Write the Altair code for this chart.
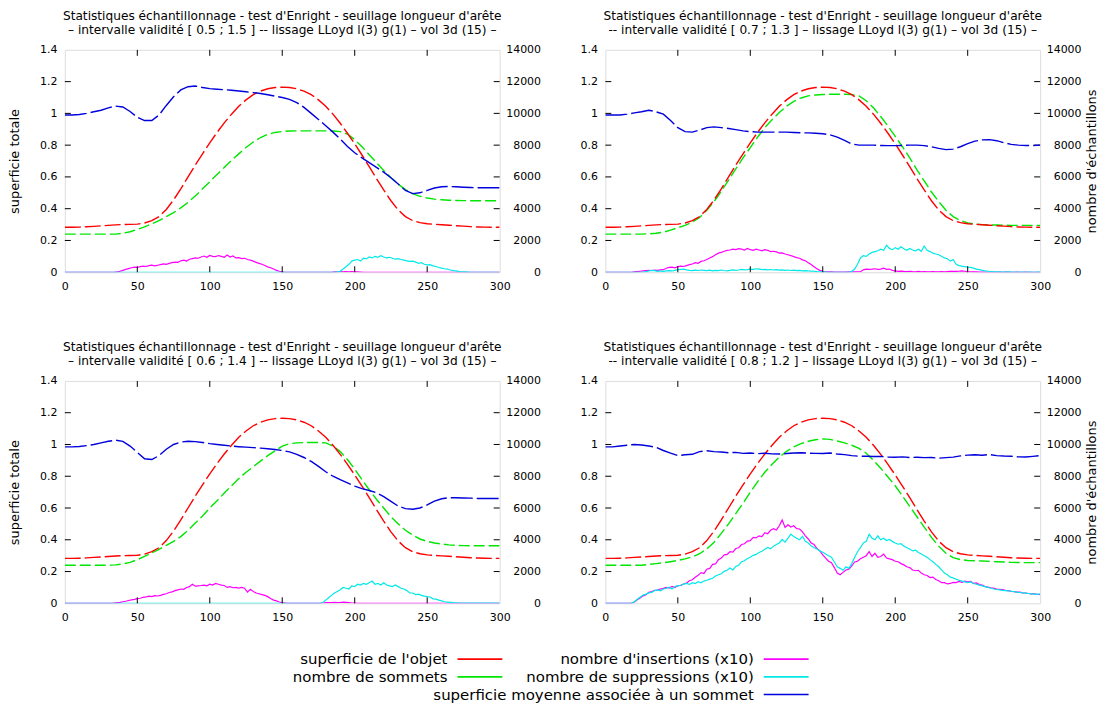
import altair as alt
import pandas as pd

FONT = "DejaVu Sans"
W, H = 436, 223

# ---------------- data ----------------
XS = list(range(0, 301, 5))   # smooth series sampling
XN = list(range(0, 301, 2))   # noisy series sampling

X_TICKS = [0, 50, 100, 150, 200, 250, 300]
YL_TICKS = [0, 0.2, 0.4, 0.6, 0.8, 1, 1.2, 1.4]
YR_TICKS = [0, 2000, 4000, 6000, 8000, 10000, 12000, 14000]

TITLE1 = "Statistiques échantillonnage - test d'Enright - seuillage longueur d'arête"
TITLE2 = [
    "– intervalle validité [ 0.5 ; 1.5 ]  -- lissage LLoyd l(3) g(1) – vol 3d (15) –",
    "-- intervalle validité [ 0.7 ; 1.3 ]  – lissage LLoyd l(3) g(1) – vol 3d (15) –",
    "– intervalle validité [ 0.6 ; 1.4 ]  -- lissage LLoyd l(3) g(1) – vol 3d (15) –",
    "-- intervalle validité [ 0.8 ; 1.2 ]  – lissage LLoyd l(3) g(1) – vol 3d (15) –",
]

# superficie de l'objet (left axis) - same in every panel
RED = [0.283, 0.283, 0.284, 0.286, 0.289, 0.292, 0.295, 0.298, 0.300, 0.301, 0.303,
       0.310, 0.325, 0.350, 0.395, 0.455, 0.525, 0.600, 0.675, 0.745, 0.815,
       0.880, 0.940, 0.995, 1.045, 1.085, 1.118, 1.140, 1.155, 1.163, 1.165,
       1.163, 1.155, 1.140, 1.118, 1.085, 1.045, 0.995, 0.938, 0.875, 0.808,
       0.738, 0.665, 0.590, 0.518, 0.450, 0.392, 0.350, 0.325, 0.312, 0.305,
       0.302, 0.299, 0.296, 0.293, 0.290, 0.287, 0.285, 0.284, 0.283, 0.283]

# nombre de sommets (right axis)
GREEN_TL = [2400] * 7 + [2400, 2450, 2550, 2700, 2850, 3050, 3250, 3500, 3750, 4050, 4400, 4800, 5250, 5700,
                         6150, 6600, 7050, 7450, 7850, 8200, 8480, 8680, 8800, 8860, 8890, 8900, 8900, 8900,
                         8900, 8900, 8890, 8850, 8700, 8350, 7900, 7400, 6900, 6400, 5950, 5550, 5200, 4950,
                         4780, 4670, 4600, 4560, 4530, 4520, 4510, 4500, 4500, 4500, 4500, 4500]
GREEN_TR = [2400] * 6 + [2420, 2450, 2520, 2650, 2800, 2950, 3150, 3450, 3900, 4450, 5100, 5800, 6500, 7200,
                         7850, 8500, 9100, 9600, 10050, 10450, 10750, 10970, 11100, 11160, 11190, 11200, 11200,
                         11200, 11180, 11100, 10800, 10350, 9800, 9200, 8550, 7900, 7200, 6450, 5750, 5050, 4450,
                         3900, 3500, 3250, 3100, 3030, 3000, 2980, 2970, 2960, 2950, 2950, 2950, 2950, 2950]
GREEN_BL = [2400] * 7 + [2420, 2480, 2580, 2750, 2950, 3180, 3400, 3650, 3900, 4200, 4600, 5050, 5500, 6000,
                         6450, 6950, 7400, 7850, 8250, 8600, 8950, 9300, 9600, 9900, 10050, 10100, 10120, 10120,
                         10120, 10100, 9900, 9550, 9050, 8450, 7800, 7150, 6550, 6000, 5450, 5000, 4600, 4300,
                         4050, 3900, 3800, 3730, 3680, 3650, 3630, 3620, 3620, 3620, 3620, 3620]
GREEN_BR = [2400] * 6 + [2450, 2500, 2550, 2620, 2700, 2800, 2920, 3120, 3420, 3850, 4400, 5000, 5650, 6300,
                         7000, 7650, 8250, 8750, 9200, 9570, 9850, 10050, 10200, 10300, 10350, 10320, 10220,
                         10100, 9950, 9750, 9450, 9000, 8500, 7950, 7400, 6750, 6100, 5450, 4800, 4150, 3600,
                         3150, 2880, 2750, 2700, 2680, 2660, 2640, 2620, 2600, 2580, 2570, 2560, 2560, 2560]

# superficie moyenne associée à un sommet (left axis)
BLUE_TL = [0.99, 0.99, 0.993, 1.0, 1.01, 1.02, 1.035, 1.046, 1.04, 1.012, 0.975,
           0.955, 0.955, 0.99, 1.05, 1.105, 1.148, 1.168, 1.172, 1.163, 1.156,
           1.152, 1.149, 1.146, 1.141, 1.136, 1.131, 1.125, 1.117, 1.109, 1.1,
           1.088, 1.068, 1.038, 1.0, 0.962, 0.922, 0.882, 0.838, 0.792, 0.752,
           0.72, 0.69, 0.66, 0.63, 0.595, 0.555, 0.515, 0.495, 0.5, 0.515,
           0.53, 0.538, 0.54, 0.538, 0.535, 0.533, 0.532, 0.532, 0.532, 0.532]
BLUE_TR = [0.99, 0.99, 0.99, 0.995, 1.003, 1.01, 1.02, 1.01, 0.995, 0.955, 0.91,
           0.885, 0.882, 0.895, 0.91, 0.915, 0.91, 0.905, 0.898, 0.89, 0.885,
           0.882, 0.882, 0.882, 0.882, 0.882, 0.88, 0.878, 0.877, 0.875, 0.872,
           0.865, 0.85, 0.83, 0.808, 0.8, 0.8, 0.8, 0.798, 0.797, 0.797,
           0.798, 0.8, 0.8, 0.797, 0.79, 0.78, 0.772, 0.775, 0.79, 0.81,
           0.825, 0.833, 0.835, 0.828, 0.815, 0.805, 0.8, 0.798, 0.798, 0.8]
BLUE_BL = [0.985, 0.985, 0.987, 0.993, 1.0, 1.01, 1.02, 1.027, 1.02, 0.99, 0.95,
           0.91, 0.905, 0.93, 0.97, 1.0, 1.015, 1.02, 1.018, 1.012, 1.005,
           1.0, 0.995, 0.99, 0.986, 0.983, 0.98, 0.977, 0.973, 0.968, 0.962,
           0.953, 0.938, 0.918, 0.893, 0.862, 0.828, 0.8, 0.778, 0.758, 0.738,
           0.722, 0.71, 0.696, 0.672, 0.642, 0.612, 0.596, 0.592, 0.6, 0.62,
           0.643, 0.658, 0.665, 0.665, 0.663, 0.662, 0.66, 0.66, 0.66, 0.66]
BLUE_BR = [0.985, 0.985, 0.99, 0.995, 1.0, 0.997, 0.99, 0.982, 0.962, 0.945, 0.93,
           0.935, 0.938, 0.955, 0.96, 0.955, 0.953, 0.948, 0.95, 0.944, 0.946,
           0.942, 0.945, 0.941, 0.94, 0.943, 0.946, 0.948, 0.945, 0.944, 0.943,
           0.946, 0.94, 0.936, 0.93, 0.926, 0.926, 0.924, 0.925, 0.921, 0.92,
           0.922, 0.918, 0.92, 0.917, 0.918, 0.914, 0.917, 0.92, 0.928, 0.933,
           0.935, 0.932, 0.937, 0.93, 0.927, 0.926, 0.922, 0.921, 0.925, 0.93]

# nombre d'insertions (x10) (right axis)
MAG_TL = ([0] * 18 +
          [20, 60, 120, 180, 230, 280, 320, 300, 350, 380, 360, 420, 450, 400, 440, 480, 520, 500, 560, 600,
           640, 620, 720, 760, 700, 820, 860, 900, 880, 960, 1020, 940, 1060, 1000, 980, 1050, 1000, 940,
           1080, 960, 1020, 900, 920, 860, 880, 800, 760, 700, 620, 560, 500, 420, 340, 280, 200, 120, 60, 20] +
          [0] * 17 + [20, 30, 40, 30, 40, 30, 40, 30, 20, 10] + [0] * 48)
MAG_TR = ([0] * 10 +
          [20, 40, 60, 80, 100, 120, 110, 130, 120, 150, 160, 250, 300, 320, 280, 350, 380, 360, 420, 480,
           520, 600, 560, 680, 720, 800, 900, 980, 1100, 1200, 1250, 1320, 1380, 1400, 1450, 1420, 1480, 1450, 1400, 1500,
           1420, 1380, 1450, 1400, 1350, 1420, 1380, 1300, 1320, 1280, 1200, 1220, 1150, 1100, 1050, 980, 920, 880, 780, 720,
           600, 480, 350, 220, 120, 60, 30, 20, 20, 10, 10, 10, 10, 10, 20, 20, 20, 30, 30, 150,
           200, 180, 190, 220, 180, 200, 260, 180, 200, 120, 80, 60, 70, 50, 40, 60, 40, 30, 50, 30,
           40, 30, 30, 40, 30, 30, 40, 30, 40, 50, 60, 50, 60, 80, 60, 40, 30, 20, 20, 10] +
          [10, 10, 0, 10, 10, 0, 10, 0, 10, 10, 0, 0, 10, 0, 0, 10, 0, 0, 0, 0, 0])
MAG_BL = ([0] * 17 +
          [20, 40, 60, 100, 130, 180, 220, 250, 300, 320, 380, 400, 450, 420, 480, 460, 500, 560, 600, 680,
           720, 800, 850, 900, 880, 1000, 1050, 1200, 1080, 1100, 1120, 1150, 1100, 1200, 1150, 1250, 1200, 1150,
           1120, 1000, 1050, 980, 1000, 960, 1000, 950, 700, 880, 750, 650, 600, 550, 500, 420, 300, 200, 150, 80, 40, 20] +
          [0] * 12 + [20, 40, 50, 40, 60, 40, 50, 80, 60, 40, 20, 10] + [0] * 50)
MAG_BR = ([0] * 10 +
          [80, 220, 330, 470, 540, 700, 740, 820, 830, 900,
           940, 1010, 960, 1060, 990, 1120, 1130, 1220, 1280, 1420,
           1480, 1640, 1760, 1930, 1880, 2150, 2200, 2450, 2480, 2750,
           2850, 3050, 3080, 3250, 3220, 3450, 3500, 3700, 3750, 3920,
           3950, 4150, 4120, 4250, 4200, 4450, 4380, 4600, 4700, 4620,
           4880, 5250, 4780, 4950, 4800, 4880, 4700, 4680, 4500, 4250,
           4050, 3800, 3700, 3450, 3300, 3050, 2850, 2650, 2550, 2250,
           1900, 1800, 1950, 2100, 2150, 2350, 2600, 2650, 2800, 2900,
           3000, 3250, 2950, 3150, 2900, 2950, 3100, 2850, 2800, 2750,
           2650, 2620, 2500, 2420, 2300, 2250, 2100, 2050, 2080, 1900,
           1800, 1750, 1620, 1650, 1500, 1420, 1300, 1300, 1220, 1250,
           1320, 1300, 1380, 1320, 1400, 1350, 1380, 1250, 1280, 1180,
           1150, 1050, 1020, 980, 960, 900, 880, 860, 820, 800,
           760, 740, 700, 700, 660, 650, 620, 600, 590, 570,
           540])

# nombre de suppressions (x10) (right axis)
CYAN_TL = ([0] * 94 +
           [20, 60, 200, 350, 500, 700, 760, 800, 700, 880, 840, 960, 900, 1000, 940, 1040, 960, 900, 940, 880,
            820, 860, 800, 760, 720, 680, 700, 640, 560, 600, 500, 460, 480, 400, 360, 300, 260, 220, 200, 140,
            100, 80, 40, 30, 20, 10] + [0] * 11)
CYAN_TR = ([0] * 14 +
           [40, 80, 120, 100, 60, 80, 60, 80, 100, 80, 120, 160, 180, 200, 150, 120, 100, 130, 110, 140,
            120, 100, 130, 90, 120, 100, 140, 110, 90, 120, 150, 120, 140, 180, 150, 160, 200, 180, 220, 190,
            160, 180, 150, 170, 140, 160, 130, 150, 120, 140, 110, 130, 100, 120, 90, 100, 80, 70, 60, 40,
            30, 20, 10] + [0] * 8 +
           [50, 200, 500, 900, 1050, 1000, 1150, 1250, 1300, 1350, 1450, 1380, 1700, 1500, 1420, 1550, 1450,
            1600, 1480, 1380, 1500, 1400, 1350, 1450, 1320, 1650, 1380, 1300, 1200, 1150, 1100, 1000, 900, 850,
            700, 800, 500, 420, 380, 350, 320, 300, 260, 200, 160, 120, 80, 60, 40, 30, 20, 20, 10, 10, 20] +
           [10, 10, 0, 10, 10, 0, 10, 10, 0, 10, 10])
CYAN_BL = ([0] * 89 +
           [50, 200, 350, 500, 650, 750, 850, 1000, 950, 900, 1100, 1050, 1200, 1150, 1250, 1200, 1300, 1400,
            1200, 1250, 1150, 1300, 1150, 1100, 1050, 1150, 1050, 950, 900, 800, 650, 650, 550, 580, 500, 450,
            420, 400, 280, 260, 200, 150, 100, 80, 60, 40, 30, 20, 20, 10, 10] + [10] * 11)
CYAN_BR = ([0] * 10 +
           [100, 260, 380, 520, 580, 660, 690, 800, 850, 790,
            900, 940, 1010, 900, 1060, 1100, 1140, 1210, 1250, 1190,
            1300, 1240, 1360, 1290, 1400, 1450, 1520, 1580, 1720, 1800,
            1860, 2010, 2080, 2220, 2100, 2320, 2400, 2620, 2680, 2820,
            2900, 3020, 3080, 3200, 3280, 3400, 3520, 3430, 3600, 3700,
            3800, 4020, 3850, 4100, 4350, 4200, 4100, 4000, 4220, 3900,
            3800, 3620, 3500, 3420, 3300, 3220, 3100, 3000, 2900, 2600,
            2300, 2200, 2080, 2300, 2200, 2500, 2900, 3250, 3500, 3800,
            3900, 4350, 4100, 4000, 4250, 4000, 4100, 3950, 4020, 3900,
            3800, 3720, 3750, 3600, 3500, 3420, 3300, 3350, 3200, 3100,
            3000, 2900, 2750, 2620, 2450, 2300, 2100, 1900, 1800, 1650,
            1600, 1520, 1450, 1400, 1350, 1300, 1350, 1250, 1200, 1150,
            1100, 1050, 1000, 950, 900, 870, 850, 820, 800, 780,
            760, 740, 700, 680, 660, 640, 620, 600, 580, 560,
            600])

LEG_LABELS = ["superficie de l'objet", "nombre de sommets", "nombre d'insertions (x10)",
              "nombre de suppressions (x10)", "superficie moyenne associée à un sommet"]
LEG_COL = [0, 0, 1, 1, 1]
LEG_ROW = [0, 1, 0, 1, 2]

C_RED, C_GREEN, C_MAG, C_CYAN, C_BLUE = "#ff0000", "#00e600", "#ff00ff", "#00e8e8", "#0000dd"
COLORS = [C_RED, C_GREEN, C_MAG, C_CYAN, C_BLUE]

# ---------------- helpers ----------------
def x_enc():
    return alt.X("x:Q", scale=alt.Scale(domain=[0, 300], nice=False, zero=False),
                 axis=alt.Axis(values=X_TICKS, labelFlush=False, labelOverlap=False, domain=False,
                               ticks=False, tickSize=0, grid=False, labelPadding=8, labelFont=FONT,
                               labelFontSize=11, labelColor="black", title=None))


def yl_enc(title):
    return alt.Y("v:Q", scale=alt.Scale(domain=[0, 1.4], nice=False, zero=False),
                 axis=alt.Axis(orient="left", values=YL_TICKS, format="~g", labelFlush=False,
                               labelOverlap=False, domain=False, ticks=False, tickSize=0, grid=False,
                               labelPadding=8, labelFont=FONT, labelFontSize=11, labelColor="black",
                               title=title, titleFont=FONT, titleFontSize=13, titleFontWeight="normal",
                               titleColor="black", titlePadding=18))


def yr_enc(title):
    return alt.Y("v:Q", scale=alt.Scale(domain=[0, 14000], nice=False, zero=False),
                 axis=alt.Axis(orient="right", values=YR_TICKS, format="d", labelFlush=False,
                               labelOverlap=False, domain=False, ticks=False, tickSize=0, grid=False,
                               labelAlign="right", labelPadding=41, labelFont=FONT, labelFontSize=11,
                               labelColor="black", title=title, titleFont=FONT, titleFontSize=13,
                               titleFontWeight="normal", titleColor="black", titleAngle=270,
                               titleBaseline="top", titlePadding=4))


def line(xs, ys, color, yenc, dash=None, width=1.4):
    df = pd.DataFrame({"x": xs, "v": ys})
    kw = dict(color=color, strokeWidth=width, clip=True)
    if dash:
        kw["strokeDash"] = dash
    return alt.Chart(df).mark_line(**kw).encode(x=x_enc(), y=yenc)


def panel(green, blue, mag, cyan, title2, left_title, right_title):
    yl = yl_enc(left_title)
    yr = yr_enc(right_title)
    xt = pd.DataFrame({"x": X_TICKS[1:-1]})
    rule = dict(color="black", strokeWidth=1)
    ticks_top = alt.Chart(xt).mark_rule(**rule).encode(x=x_enc(), y=alt.value(0), y2=alt.value(6))
    ticks_bot = alt.Chart(xt).mark_rule(**rule).encode(x=x_enc(), y=alt.value(H - 6), y2=alt.value(H))
    ticks_l = alt.Chart(pd.DataFrame({"v": YL_TICKS[1:-1]})).mark_rule(**rule).encode(
        y=yl, x=alt.value(0), x2=alt.value(6))
    ticks_r = alt.Chart(pd.DataFrame({"v": YR_TICKS[1:-1]})).mark_rule(**rule).encode(
        y=yr, x=alt.value(W - 6), x2=alt.value(W))

    right = alt.layer(
        line(XS, green, C_GREEN, yr, dash=[11, 4]),
        line(XN, mag, C_MAG, yr, width=1.2),
        line(XN, cyan, C_CYAN, yr, width=1.2),
        ticks_r,
    )
    left = alt.layer(
        line(XS, RED, C_RED, yl, dash=[16, 4]),
        line(XS, blue, C_BLUE, yl, dash=[22, 4]),
        ticks_l, ticks_top, ticks_bot,
    )
    return alt.layer(right, left).resolve_scale(y="independent").properties(
        width=W, height=H,
        title=alt.TitleParams(text=[TITLE1, title2], anchor="middle", frame="group", font=FONT,
                              fontSize=12.2, fontWeight="normal", color="black", lineHeight=13.5,
                              offset=8))


tl = panel(GREEN_TL, BLUE_TL, MAG_TL, CYAN_TL, TITLE2[0], "superficie totale", None)
tr = panel(GREEN_TR, BLUE_TR, MAG_TR, CYAN_TR, TITLE2[1], None, "nombre d'échantillons")
bl = panel(GREEN_BL, BLUE_BL, MAG_BL, CYAN_BL, TITLE2[2], "superficie totale", None)
br = panel(GREEN_BR, BLUE_BR, MAG_BR, CYAN_BR, TITLE2[3], None, "nombre d'échantillons")

grid = alt.concat(tl, tr, bl, br, columns=2, spacing={"row": 109, "column": 106}, bounds="flush")

# ---------------- legend ----------------
ldf = pd.DataFrame({"lab": LEG_LABELS, "c": LEG_COL, "r": LEG_ROW})
lx = alt.X("c:Q", scale=alt.Scale(domain=[0, 1], range=[383.7, 690.8]), axis=None)
ly = alt.Y("r:Q", scale=alt.Scale(domain=[0, 2], range=[8, 43.5]), axis=None)
leg_text = alt.Chart(ldf).mark_text(align="right", baseline="middle", font=FONT, fontSize=15,
                                    color="black").encode(x=lx, y=ly, text="lab:N")
leg_line = alt.Chart(ldf).mark_rule(strokeWidth=1.6, xOffset=10, x2Offset=55).encode(
    x=lx, x2=alt.X2("c"), y=ly,
    color=alt.Color("lab:N", scale=alt.Scale(domain=LEG_LABELS, range=COLORS), legend=None))
legend = alt.layer(leg_text, leg_line).properties(width=760, height=48,
                                                  view=alt.ViewBackground(strokeOpacity=0))

chart = alt.vconcat(grid, legend, spacing=28).properties(
    padding={"left": 0, "top": 0, "right": 0, "bottom": 0}
).configure_view(stroke="black", strokeWidth=1.6).configure(font=FONT)

chart.save("out.html", embed_options={"renderer": "svg", "actions": False})
